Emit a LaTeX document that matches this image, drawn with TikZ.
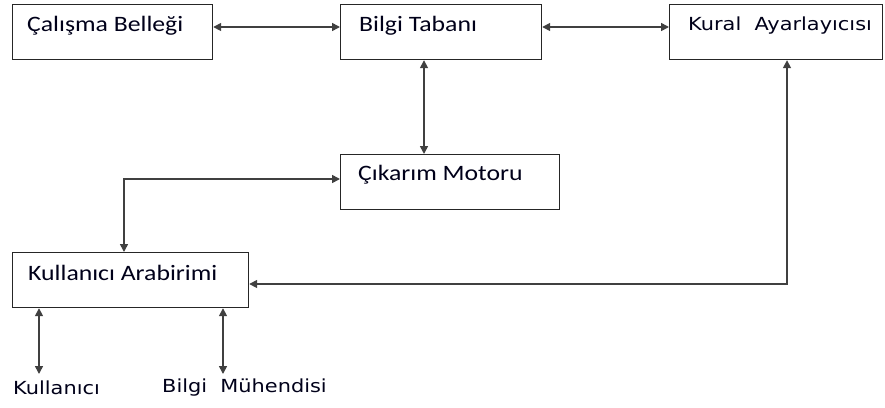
\documentclass[tikz,border=0pt]{standalone}
\usepackage{fontspec}
\newfontfamily\calfont[FakeStretch=1.17]{Carlito}
\newfontfamily\verfont[FakeStretch=1.16]{DejaVu Sans}
\usetikzlibrary{arrows.meta}
\tikzset{
  box/.style={draw=black!85, line width=1.2pt, anchor=north west, inner sep=0pt},
  caltxt/.style={font=\calfont\fontsize{22}{26}\selectfont, anchor=west, inner sep=0pt, text=black!90!blue},
  vertxt/.style={font=\verfont\fontsize{18}{22}\selectfont, anchor=west, inner sep=0pt, text=black!90!blue},
  conn/.style={draw=black!75, line width=1.6pt, {Triangle[length=8pt,width=8pt]}-{Triangle[length=8pt,width=8pt]}},
}
\begin{document}
\begin{tikzpicture}[x=1pt,y=-1pt]
\useasboundingbox (0,0) rectangle (885,407);
% boxes
\node[box, minimum width=200pt, minimum height=55pt] (cb) at (12,4) {};
\node[box, minimum width=201pt, minimum height=55pt] (bt) at (340,4) {};
\node[box, minimum width=213pt, minimum height=55pt] (ka) at (669,4) {};
\node[box, minimum width=219pt, minimum height=55pt] (cm) at (340,154) {};
\node[box, minimum width=236pt, minimum height=55pt] (ua) at (12,252) {};
% texts
\node[caltxt] (cbt) at (27,26) {Çalışma Belleği};
\node[caltxt] (btt) at (359,26) {Bilgi Tabanı};
\node[vertxt] (kat) at (688,26) {Kural\ \ Ayarlayıcısı};
\node[caltxt] (cmt) at (358,175) {Çıkarım Motoru};
\node[caltxt] (uat) at (28,273) {Kullanıcı Arabirimi};
\node[vertxt] (ku) at (13,388) {Kullanıcı};
\node[vertxt] (bm) at (162,388) {Bilgi\ \ Mühendisi};
% free ends
\coordinate (kuend) at (39,374);
\coordinate (bmend) at (223,374);
% connectors
\draw[conn] (cb.east |- 0,27) -- (bt.west |- 0,27);
\draw[conn] (bt.east |- 0,27) -- (ka.west |- 0,27);
\draw[conn] (bt.south -| 424,0) -- (cm.north -| 424,0);
\draw[conn] (cm.west |- 0,179) -| (ua.north -| 124,0);
\draw[conn] (ka.south -| 787,0) |- (ua.east |- 0,284);
\draw[conn] (ua.south -| 39,0) -- (kuend);
\draw[conn] (ua.south -| 223,0) -- (bmend);
\end{tikzpicture}
\end{document}
